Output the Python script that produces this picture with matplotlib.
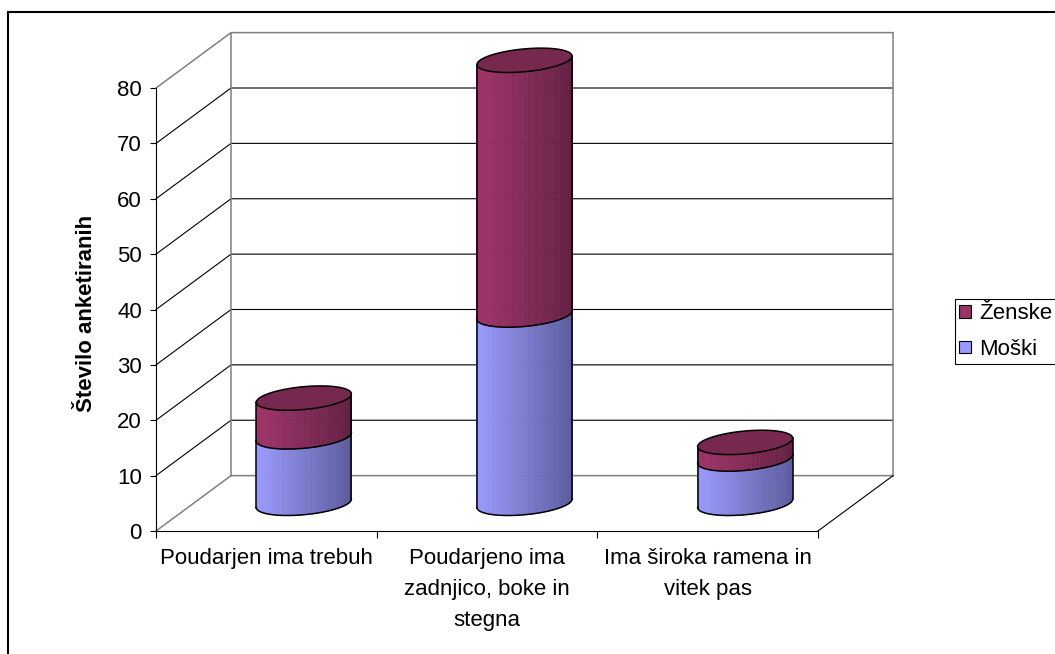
import numpy as np
import matplotlib.pyplot as plt
from matplotlib.patches import Polygon, Rectangle, Patch

plt.rcParams['font.family'] = ['Liberation Sans', 'DejaVu Sans']

# survey counts per body shape
categories = ['Poudarjen ima trebuh',
              'Poudarjeno ima\nzadnjico, boke in\nstegna',
              'Ima široka ramena in\nvitek pas']
moski = [12, 34, 8]
zenske = [7, 46, 3]
yticks = list(range(0, 81, 10))

# oblique depth of the 3d box (x units, value units) and cylinder radii
DX, DY = 0.34, 10.0
RX, RZ = 0.202, 0.22

BLUE_L, BLUE_D = np.array([155, 155, 255]) / 255, np.array([92, 92, 158]) / 255
RED_L, RED_D = np.array([160, 52, 105]) / 255, np.array([100, 32, 68]) / 255
RED_TOP = '#76284f'
GRAY = '#808080'

fig = plt.figure(figsize=(10.55, 6.54), dpi=100)
ax = fig.add_axes([156 / 1055, 123 / 654, 662 / 1055, 443 / 654])
ax.set_xlim(0, 3)
ax.set_ylim(0, 80)
ax.patch.set_alpha(0)

# back wall, left wall diagonals and floor
for v in yticks:
    c = GRAY if v in (0, 80) else 'black'
    lw = 1.1 if v in (0, 80) else 0.8
    ax.plot([0, DX, 3 + DX], [v, v + DY, v + DY], color=c, lw=lw, clip_on=False, zorder=1)
ax.plot([DX, DX], [DY, 80 + DY], color=GRAY, lw=1.1, clip_on=False, zorder=1)
ax.plot([3 + DX, 3 + DX], [DY, 80 + DY], color=GRAY, lw=1.1, clip_on=False, zorder=1)
ax.plot([3, 3 + DX], [0, DY], color='black', lw=0.8, clip_on=False, zorder=1)


def cylinder(xc, v0, v1, light, dark, top=None, n=90):
    t0 = np.arctan2(RZ * DX, RX)
    t = np.linspace(t0 + np.pi, t0 + 2 * np.pi, n + 1)
    X = xc + RX * np.cos(t) + (0.5 + RZ * np.sin(t)) * DX
    dz = (0.5 + RZ * np.sin(t)) * DY
    xmin, xmax = X.min(), X.max()
    for i in range(n):
        s = ((X[i] + X[i + 1]) / 2 - xmin) / (xmax - xmin)
        col = light * (1 - s) + dark * s
        quad = [(X[i], v0 + dz[i]), (X[i + 1], v0 + dz[i + 1]),
                (X[i + 1], v1 + dz[i + 1]), (X[i], v1 + dz[i])]
        ax.add_patch(Polygon(quad, closed=True, facecolor=col, edgecolor=col,
                             lw=0.5, clip_on=False, zorder=3))
    ax.plot(X, v0 + dz, color='black', lw=1.1, clip_on=False, zorder=4)
    ax.plot([X[0], X[0]], [v0 + dz[0], v1 + dz[0]], color='black', lw=1.1,
            clip_on=False, zorder=4)
    ax.plot([X[-1], X[-1]], [v0 + dz[-1], v1 + dz[-1]], color='black', lw=1.1,
            clip_on=False, zorder=4)
    if top is not None:
        tt = np.linspace(0, 2 * np.pi, 181)
        TX = xc + RX * np.cos(tt) + (0.5 + RZ * np.sin(tt)) * DX
        TY = v1 + (0.5 + RZ * np.sin(tt)) * DY
        ax.add_patch(Polygon(np.column_stack([TX, TY]), closed=True, facecolor=top,
                             edgecolor='black', lw=1.1, clip_on=False, zorder=5))


for i, (m, z) in enumerate(zip(moski, zenske)):
    cylinder(i + 0.5, 0, m, BLUE_L, BLUE_D)
    cylinder(i + 0.5, m, m + z, RED_L, RED_D, top=RED_TOP)

# axes
for side in ('top', 'right'):
    ax.spines[side].set_visible(False)
for side in ('left', 'bottom'):
    ax.spines[side].set_linewidth(0.8)
    ax.spines[side].set_zorder(2)
ax.set_yticks(yticks)
ax.tick_params(axis='y', length=4.3, width=0.8, pad=5.8, labelsize=16)
ax.set_xticks([0, 1, 2, 3])
ax.set_xticklabels([])
ax.tick_params(axis='x', which='major', length=5, width=0.8)
ax.set_xticks([0.5, 1.5, 2.5], categories, minor=True)
ax.tick_params(axis='x', which='minor', length=0, pad=12, labelsize=16)
for lbl in ax.get_xticklabels(minor=True):
    lbl.set_linespacing(1.65)

fig.text(86 / 1055, 1 - 313 / 654, 'Število anketiranih', rotation=90,
         fontweight='bold', fontsize=16, ha='center', va='center')

handles = [Patch(facecolor='#993366', edgecolor='black', lw=0.8),
           Patch(facecolor='#9999FF', edgecolor='black', lw=0.8)]
leg = fig.legend(handles, ['Ženske', 'Moški'], loc='upper left',
                 bbox_to_anchor=(955 / 1055, 1 - 299 / 654), fontsize=16,
                 frameon=True, fancybox=False, edgecolor='black', framealpha=1,
                 handlelength=0.5, handleheight=0.5, handletextpad=0.4,
                 labelspacing=0.65, borderpad=0.2, borderaxespad=0)
leg.get_frame().set_linewidth(0.8)

# outer chart frame
fig.patches.append(Rectangle((8 / 1055, -1), 2, 2 - 12 / 654, fill=False,
                             edgecolor='black', lw=1.5, transform=fig.transFigure))

fig.savefig('out.png', dpi=100)
